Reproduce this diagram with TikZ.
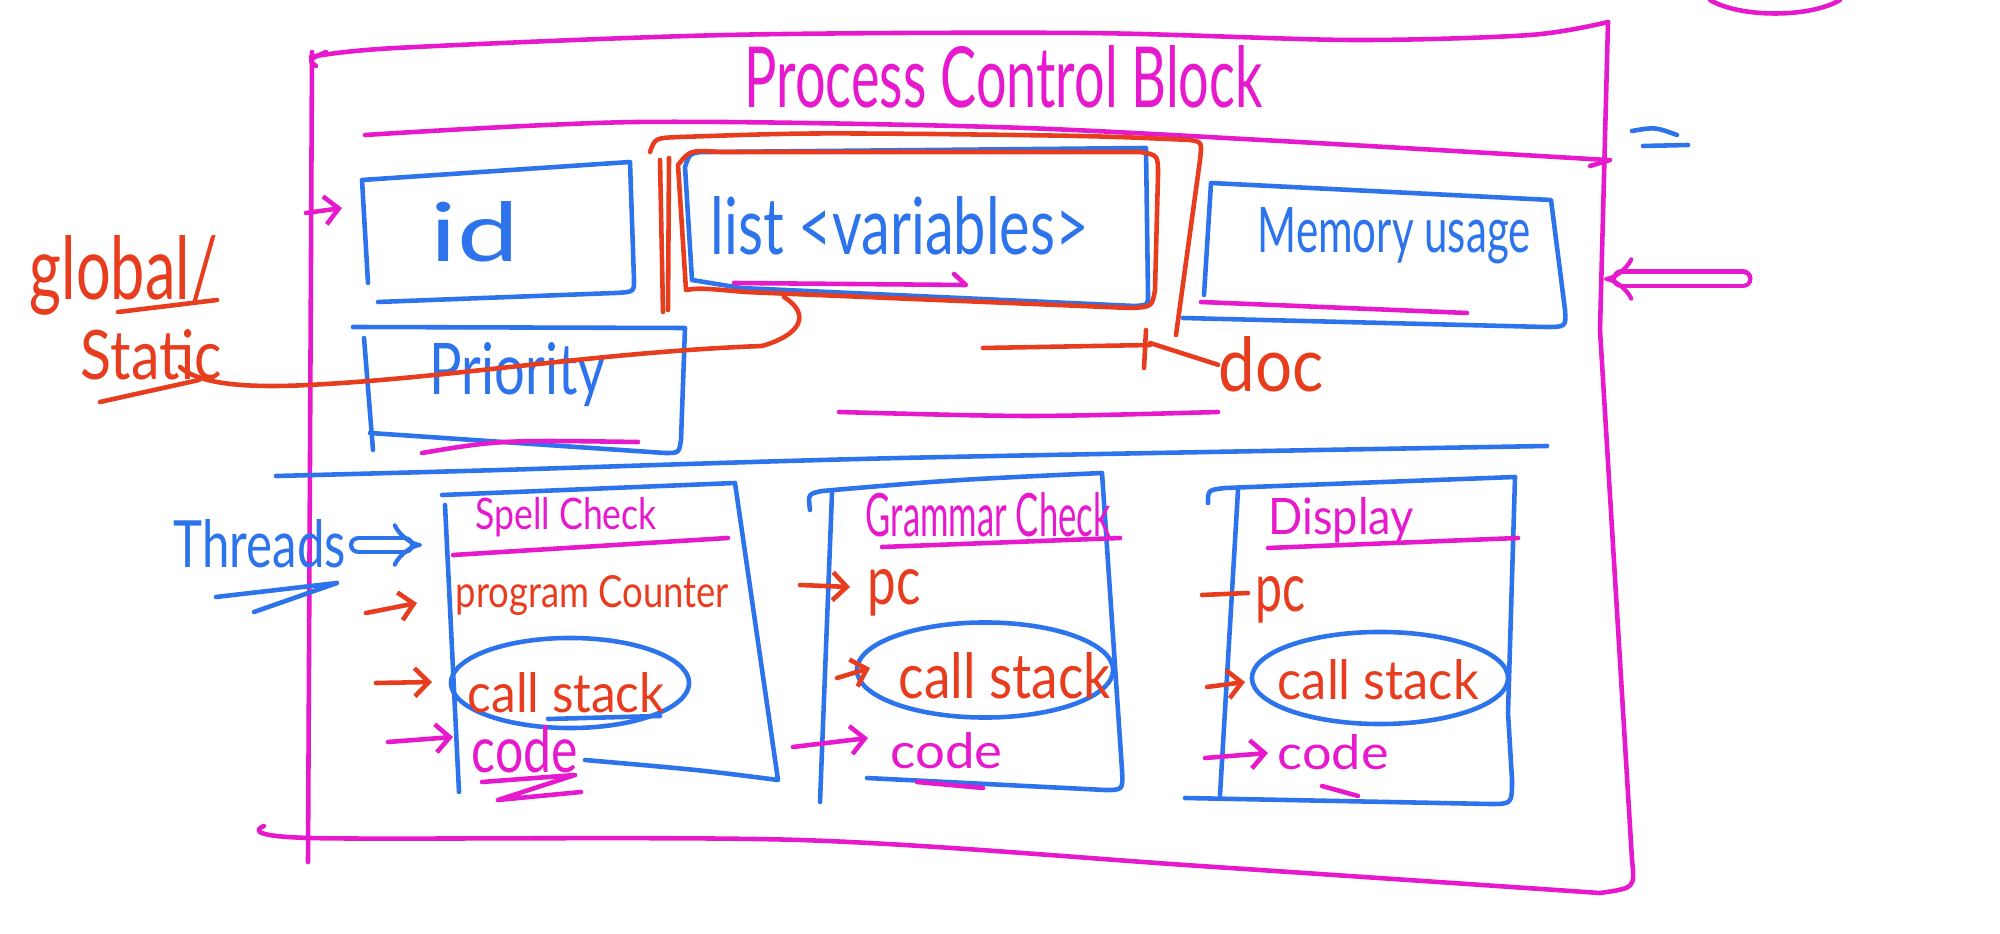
\documentclass[tikz,border=0pt]{standalone}
\usepackage{fontspec}
\setmainfont{Lato}
\usetikzlibrary{arrows.meta,shapes.geometric}
\newlength\pxu \setlength\pxu{0.01cm}
\newcommand\hw[3]{\resizebox{#1\pxu}{#2\pxu}{#3}}
\definecolor{mag}{RGB}{230,25,205}
\definecolor{bpen}{RGB}{45,115,235}
\definecolor{rpen}{RGB}{232,60,30}
\begin{document}
\begin{tikzpicture}[x=0.01cm,y=-0.01cm,line cap=round,line join=round,
  pen/.style={line width=1.3pt},
  magpen/.style={pen,draw=mag},
  bluepen/.style={pen,draw=bpen},
  redpen/.style={pen,draw=rpen},
  arr/.style={-{Straight Barb[length=4pt,width=8pt]}},
  dbl/.style={line width=1.2pt,double=white,double distance=3pt,-{Implies}},
  lbl/.style={inner sep=0pt,anchor=base west},
  ell/.style={ellipse,draw=bpen,line width=1.3pt,inner sep=0pt}]
\useasboundingbox (0,0) rectangle (2000,934);

% ---------------- outer Process Control Block ----------------
\draw[magpen] plot[smooth] coordinates {(311,57) (396,48) (726,35) (1084,33) (1351,40) (1530,35) (1608,22)};
\draw[magpen] (316,66) .. controls (308,60) .. (326,52);
\draw[magpen] (312,52) -- (308,862);
\draw[magpen] (1608,22) -- (1600,330) -- (1632,860) .. controls (1635,888) .. (1600,893);
\draw[magpen] plot[smooth] coordinates {(264,826) (310,838) (800,840) (1200,866) (1600,893)};
\node[lbl,text=mag] (title) at (744,108) {\hw{518}{62}{Process Control Block}};
\draw[magpen] plot[smooth] coordinates {(365,135) (637,122) (994,127) (1262,140) (1607,160)};
\draw[magpen] (1590,166) -- (1610,160);

% right side marks
\draw[bluepen] (1632,131) .. controls (1655,127) .. (1677,135);
\draw[bluepen] (1643,146) -- (1688,145);
\coordinate (lArrS) at (1743,279);
\coordinate (lArrE) at (1604,279);
\draw[dbl,draw=mag] (lArrS) -- (lArrE);
\draw[magpen] (1710,0) .. controls (1740,18) and (1810,18) .. (1840,0);

% small arrow into the block
\coordinate (inS) at (306,213);
\coordinate (inE) at (342,208);
\draw[magpen,arr] (inS) -- (inE);

% ---------------- top boxes ----------------
% id
\draw[bluepen] (368,283) -- (362,180) -- (630,162) -- (634,280) .. controls (634,292) .. (615,293) -- (378,302);
\node[lbl,text=bpen] (id) at (430,262) {\hw{88}{60}{id}};

% list <variables>
\draw[redpen] (650,152) .. controls (655,138) .. (680,137) .. controls (800,133) .. (931,134) .. controls (1100,136) .. (1190,140) .. controls (1202,142) .. (1200,160) -- (1176,335);
\draw[redpen] (660,160) -- (663,312);
\draw[redpen] (669,158) -- (668,310);
\draw[bluepen] (692,280) -- (685,167) .. controls (690,152) .. (713,152) -- (1146,148) -- (1148,295) .. controls (1148,305) .. (1135,306) -- (741,288) -- (692,280);
\draw[redpen] (686,290) -- (678,165) .. controls (690,150) .. (720,152) -- (1140,152) .. controls (1158,155) .. (1158,175) -- (1155,290) .. controls (1152,307) .. (1130,308) -- (745,292) .. controls (700,288) .. (686,290);
\node[lbl,text=bpen] (list) at (710,255) {\hw{378}{58}{list <variables>}};
\draw[magpen] (734,283) -- (966,285) -- (954,274);

% Memory usage
\draw[bluepen] (1204,295) -- (1211,183) -- (1551,200) -- (1565,310) .. controls (1566,327) .. (1545,327) -- (1183,318);
\node[lbl,text=bpen] (mem) at (1257,253) {\hw{273}{45}{Memory usage}};
\draw[magpen] (1201,302) -- (1467,313);

% Priority
\draw[bluepen] (353,327) -- (685,328) -- (681,440) .. controls (679,453) .. (665,453) -- (370,433);
\draw[bluepen] (364,338) -- (373,450);
\node[lbl,text=bpen] (prio) at (429,395) {\hw{176}{52}{Priority}};
\draw[magpen] (422,453) .. controls (500,440) .. (638,442);

% doc pointer
\draw[redpen] (983,348) -- (1150,345);
\draw[redpen] (1146,330) -- (1144,368);
\node[lbl,text=rpen] (doc) at (1218,392) {\hw{105}{55}{doc}};
\coordinate (loopc) at (1150,343);
\draw[redpen] (loopc) -- (doc.west);

% magenta mid line
\draw[magpen] plot[smooth] coordinates {(839,412) (1030,416) (1218,412)};

% global / static
\node[lbl,text=rpen] (glob) at (29,300) {\hw{188}{64}{global/}};
\draw[redpen] (118,312) -- (217,300);
\node[lbl,text=rpen] (stat) at (80,380) {\hw{141}{50}{Static}};
\draw[redpen] (100,402) -- (199,380);
\draw[redpen] (180,367) .. controls (200,385) and (250,388) .. (308,385) .. controls (450,378) and (600,352) .. (762,346) .. controls (800,335) and (812,315) .. (784,297);

% separator between sections
\draw[bluepen] plot[smooth] coordinates {(276,476) (500,470) (900,458) (1547,446)};

% ---------------- Threads ----------------
\node[lbl,text=bpen] (thr) at (173,568) {\hw{172}{48}{Threads}};
\draw[bluepen] (216,597) -- (337,583) -- (254,612);
\coordinate (thrTip) at (422,545);
\draw[dbl,draw=bpen] ([shift={(12,-23)}]thr.base east) -- (thrTip);

% Thread 1: Spell Check
\draw[bluepen] (459,792) -- (445,505);
\draw[bluepen] (442,495) -- (735,483) -- (778,780) .. controls (700,770) .. (585,760);
\node[lbl,text=mag] (sp) at (475,530) {\hw{181}{32}{Spell Check}};
\draw[magpen] (453,555) -- (728,538);
\node[lbl,text=rpen] (pc1) at (455,607) {\hw{273}{32}{program Counter}};
\node[ell,minimum width=2.38cm,minimum height=0.9cm] (cse1) at (570,683) {};
\node[lbl,text=rpen] (cs1) at (467,713) {\hw{197}{40}{call stack}};
\draw[bluepen] (548,719) -- (660,716);
\node[lbl,text=mag] (cd1) at (471,772) {\hw{106}{47}{code}};
\draw[magpen] (482,782) -- (575,775) -- (498,800) -- (581,792);
\coordinate (a1) at (366,613);
\coordinate (a2) at (376,683);
\coordinate (a3) at (388,742);
\draw[redpen,arr] (a1) -- ([shift={(-38,-4)}]pc1.base west);
\draw[redpen,arr] (a2) -- ([shift={(-35,-31)}]cs1.base west);
\draw[magpen,arr] (a3) -- ([shift={(-18,-35)}]cd1.base west);

% Thread 2: Grammar Check
\draw[bluepen] (810,510) .. controls (808,494) .. (822,491) .. controls (950,480) .. (1102,473) -- (1122,770) .. controls (1123,790) .. (1105,790) -- (867,778);
\draw[bluepen] (832,493) -- (820,802);
\node[lbl,text=mag] (gr) at (865,537) {\hw{245}{44}{Grammar Check}};
\draw[magpen] (882,547) -- (1120,538);
\node[lbl,text=rpen] (pc2) at (867,605) {\hw{53}{35}{pc}};
\node[ell,minimum width=2.56cm,minimum height=0.95cm] (cse2) at (985,670) {};
\node[lbl,text=rpen] (cs2) at (898,698) {\hw{212}{46}{call stack}};
\node[lbl,text=mag] (cd2) at (890,768) {\hw{112}{36}{code}};
\draw[magpen] (917,782) -- (983,788);
\coordinate (b1) at (800,585);
\coordinate (b2) at (837,678);
\coordinate (b3) at (793,747);
\draw[redpen,arr] (b1) -- ([shift={(-17,-18)}]pc2.base west);
\draw[redpen,arr] (b2) -- ([shift={(-28,-30)}]cs2.base west);
\draw[magpen,arr] (b3) -- ([shift={(-22,-30)}]cd2.base west);

% Thread 3: Display
\draw[bluepen] (1208,503) .. controls (1208,490) .. (1225,488) -- (1515,477) -- (1508,713) -- (1512,780) .. controls (1512,804) .. (1490,804) -- (1185,798);
\draw[bluepen] (1238,490) -- (1220,795);
\node[lbl,text=mag] (dp) at (1268,535) {\hw{145}{37}{Display}};
\draw[magpen] (1268,548) -- (1518,538);
\node[lbl,text=rpen] (pc3) at (1255,612) {\hw{50}{35}{pc}};
\node[ell,minimum width=2.56cm,minimum height=0.92cm] (cse3) at (1380,678) {};
\node[lbl,text=rpen] (cs3) at (1277,700) {\hw{201}{40}{call stack}};
\node[lbl,text=mag] (cd3) at (1277,770) {\hw{111}{35}{code}};
\draw[magpen] (1322,786) -- (1358,796);
\coordinate (c1) at (1202,595);
\coordinate (c2) at (1207,687);
\coordinate (c3) at (1205,758);
\draw[redpen] (c1) -- ([shift={(-7,-19)}]pc3.base west);
\draw[redpen,arr] (c2) -- ([shift={(-32,-18)}]cs3.base west);
\draw[magpen,arr] (c3) -- ([shift={(-9,-17)}]cd3.base west);
\end{tikzpicture}
\end{document}
